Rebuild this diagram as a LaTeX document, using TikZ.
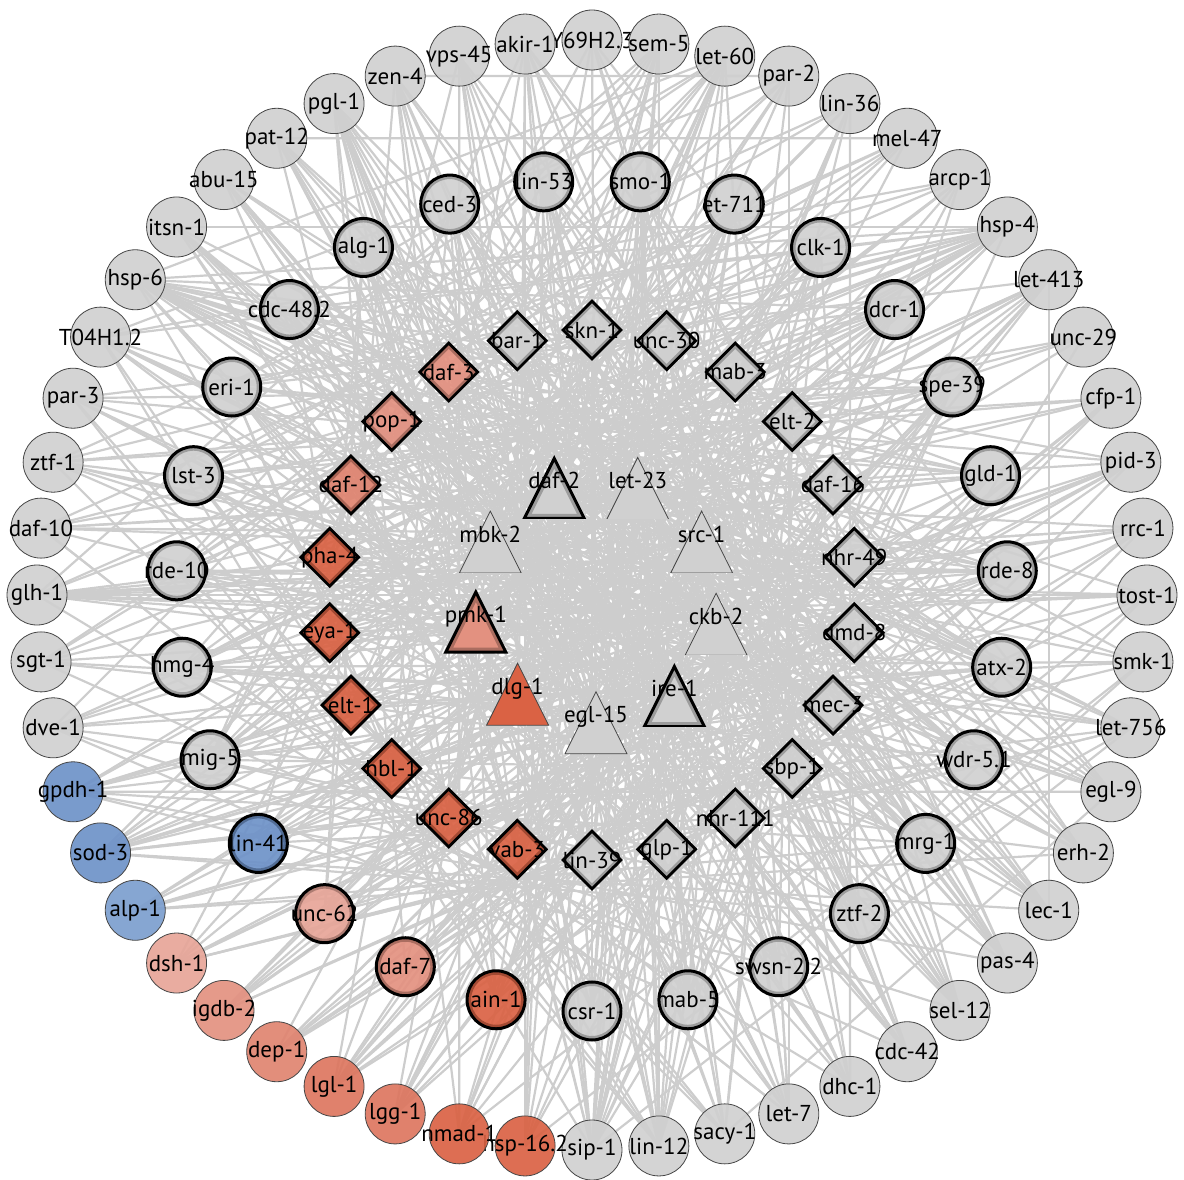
\documentclass[tikz,border=0pt]{standalone}
\usepackage{fontspec}
\newfontfamily\genefont{PT Sans}
\newcommand\genelabel{\genefont\fontsize{23}{26}\selectfont}
\usetikzlibrary{shapes.geometric,backgrounds}
\definecolor{nodegray}{RGB}{208,208,208}
\definecolor{edgegray}{RGB}{205,205,205}
\definecolor{ringgray}{RGB}{70,70,70}
\definecolor{redA}{RGB}{218,98,68}
\definecolor{redB}{RGB}{221,118,95}
\definecolor{redC}{RGB}{224,132,112}
\definecolor{redD}{RGB}{227,145,128}
\definecolor{redE}{RGB}{231,165,152}
\definecolor{blueA}{RGB}{110,146,200}
\definecolor{blueB}{RGB}{124,158,206}

\tikzset{
  edge/.style={draw=edgegray, line width=2.2pt},
  gene/.style={circle, fill=#1, draw=ringgray, line width=0.8pt, minimum size=60pt,
    inner sep=0pt, fill opacity=0.92, text opacity=1, font=\genelabel},
  hub/.style={gene=#1, draw=black, line width=3pt, minimum size=58pt,
    path picture={\draw[draw=#1!75!black, line width=8pt] (path picture bounding box.center) circle (29pt);}},
  tf/.style={diamond, fill=#1, draw=black, line width=2.8pt, minimum width=59pt, minimum height=59pt,
    inner sep=0pt, fill opacity=0.92, text opacity=1, font=\genelabel,
    path picture={\draw[draw=#1!75!black, line width=8pt] (path picture bounding box.north)
      -- (path picture bounding box.east) -- (path picture bounding box.south)
      -- (path picture bounding box.west) -- cycle;}},
  sigbox/.style={rectangle, minimum size=76pt, inner sep=0pt, fill=white, fill opacity=0,
    text opacity=1, font=\genelabel},
  sig/.style={sigbox, path picture={
    \begin{scope}[shift={(path picture bounding box.center)}]
      \fill[fill=#1, fill opacity=1] (0,31) -- (31,-31) -- (-31,-31) -- cycle;
      \draw[draw=ringgray, line width=0.8pt] (0,31) -- (31,-31) -- (-31,-31) -- cycle;
    \end{scope}}},
  hubsig/.style={sigbox, path picture={
    \begin{scope}[shift={(path picture bounding box.center)}]
      \fill[fill=#1, fill opacity=1] (0,30) -- (30,-30) -- (-30,-30) -- cycle;
      \begin{scope}
        \clip (0,30) -- (30,-30) -- (-30,-30) -- cycle;
        \draw[draw=#1!75!black, line width=9pt] (0,30) -- (30,-30) -- (-30,-30) -- cycle;
      \end{scope}
      \draw[black, line width=3pt] (0,30) -- (30,-30) -- (-30,-30) -- cycle;
    \end{scope}}}
}

\begin{document}
\begin{tikzpicture}[x=1pt, y=1pt]
\useasboundingbox (-592,-584) rectangle (592,595);

% outer ring
\foreach \i/\name/\col in {1/Y69H2.3/nodegray, 2/sem-5/nodegray, 3/let-60/nodegray,
    4/par-2/nodegray, 5/lin-36/nodegray, 6/mel-47/nodegray, 7/arcp-1/nodegray,
    8/hsp-4/nodegray, 9/let-413/nodegray, 10/unc-29/nodegray, 11/cfp-1/nodegray,
    12/pid-3/nodegray, 13/rrc-1/nodegray, 14/tost-1/nodegray, 15/smk-1/nodegray,
    16/let-756/nodegray, 17/egl-9/nodegray, 18/erh-2/nodegray, 19/lec-1/nodegray,
    20/pas-4/nodegray, 21/sel-12/nodegray, 22/cdc-42/nodegray, 23/dhc-1/nodegray,
    24/let-7/nodegray, 25/sacy-1/nodegray, 26/lin-12/nodegray, 27/sip-1/nodegray,
    28/hsp-16.2/redA, 29/nmad-1/redA, 30/lgg-1/redB, 31/lgl-1/redB, 32/dep-1/redC,
    33/igdb-2/redD, 34/dsh-1/redE, 35/alp-1/blueB, 36/sod-3/blueA, 37/gpdh-1/blueA,
    38/dve-1/nodegray, 39/sgt-1/nodegray, 40/glh-1/nodegray, 41/daf-10/nodegray,
    42/ztf-1/nodegray, 43/par-3/nodegray, 44/T04H1.2/nodegray, 45/hsp-6/nodegray,
    46/itsn-1/nodegray, 47/abu-15/nodegray, 48/pat-12/nodegray, 49/pgl-1/nodegray,
    50/zen-4/nodegray, 51/vps-45/nodegray, 52/akir-1/nodegray}
  \node[gene=\col] (o\i) at ({90-(\i-1)*(360/52)}:555) {\makebox[0pt]{\name}};

% middle ring
\foreach \i/\name/\col in {1/lin-53/nodegray, 2/smo-1/nodegray, 3/et-711/nodegray,
    4/clk-1/nodegray, 5/dcr-1/nodegray, 6/spe-39/nodegray, 7/gld-1/nodegray,
    8/rde-8/nodegray, 9/atx-2/nodegray, 10/wdr-5.1/nodegray, 11/mrg-1/nodegray,
    12/ztf-2/nodegray, 13/swsn-2.2/nodegray, 14/mab-5/nodegray, 15/csr-1/nodegray,
    16/ain-1/redA, 17/daf-7/redD, 18/unc-62/redE, 19/lin-41/blueA, 20/mig-5/nodegray,
    21/hmg-4/nodegray, 22/rde-10/nodegray, 23/lst-3/nodegray, 24/eri-1/nodegray,
    25/cdc-48.2/nodegray, 26/alg-1/nodegray, 27/ced-3/nodegray}
  \node[hub=\col] (m\i) at ({90+(180/27)-(\i-1)*(360/27)}:416) {\makebox[0pt]{\name}};

% diamonds
\foreach \i/\name/\col in {1/skn-1/nodegray, 2/unc-30/nodegray, 3/mab-3/nodegray,
    4/elt-2/nodegray, 5/daf-16/nodegray, 6/nhr-49/nodegray, 7/dmd-8/nodegray,
    8/mec-3/nodegray, 9/sbp-1/nodegray, 10/nhr-111/nodegray, 11/glp-1/nodegray,
    12/lin-39/nodegray, 13/vab-3/redA, 14/unc-86/redA, 15/hbl-1/redA, 16/elt-1/redA,
    17/eya-1/redA, 18/pha-4/redA, 19/daf-12/redC, 20/pop-1/redD, 21/daf-3/redD,
    22/bar-1/nodegray}
  \node[tf=\col] (d\i) at ({90-(\i-1)*(360/22)}:265) {\makebox[0pt]{\name}};

% triangles
\foreach \i/\name/\col in {1/daf-2/nodegray, 5/ire-1/nodegray, 8/pmk-1/redD}
  \node[hubsig=\col, xshift=4pt] (t\i) at ({110-(\i-1)*40}:122) {\makebox[0pt]{\name}};
\foreach \i/\name/\col in {2/let-23/nodegray, 3/src-1/nodegray, 4/ckb-2/nodegray,
    6/egl-15/nodegray, 7/dlg-1/redA, 9/mbk-2/nodegray}
  \node[sig=\col, xshift=4pt] (t\i) at ({110-(\i-1)*40}:122) {\makebox[0pt]{\name}};

% interactions
\begin{scope}[on background layer]
\foreach \src/\tgts in {
    o1/{m12,d9,t6,o30,m20,m8,o20}, o2/{o26,t1,t6,d12,d14,m15,m17,d20,o34,t9,m22,o40},
    o3/{t8,t7,m21,m24,d18,d16,o38,m18,t1,d11,o31,m25,o45}, o4/{o50,o24,t9,m22,d19,m19,t7,o44},
    o5/{o23,m16,d13,t6,o36,m20,m23,o42}, o6/{o48,t8,m23,d17,o41,m21,o39},
    o7/{m24,d20,t9,o44,m18,m20,o36},
    o8/{o46,o45,m25,m24,m23,m22,m21,d18,d19,d20,d21,t8,t9,t1,o40,o42,o44,m19,d16,m18,o37},
    o9/{o19,m21,d17,t8,o38,m20,d15,o43,m17,o33}, o10/{m22,t9,o41,m19}, o11/{m23,d18,o42,m17,o30},
    o12/{m24,t7,d15,o32,m18,m15,o36}, o13/{m21,d19,t8,o40,m14,o31}, o14/{o40,m22,d17,t8,o36,m13,o29},
    o15/{m21,d16,t9,o44,m26,m12,o28}, o16/{m22,d18,t1,o46,m25,o34,m11,o27},
    o17/{m23,d20,t9,o47,m1,m27,o25}, o18/{m24,d19,t2,o49,m26,o52}, o19/{m25,d21,t1,o50,m27,t9,m1,o48},
    o20/{m26,d22,t2,o48,m1,d1,m2,o49}, o21/{m27,d1,t3,o52,m2,d21,m3,o47},
    o22/{m1,d2,t2,o51,d20,t9,m26,o46}, o23/{m2,d3,t1,m27,o47,m25,o45},
    o24/{m3,d2,t3,o3,m26,d22,m24,o41}, o25/{m4,d4,t2,o52,m1,d21,m23,o43},
    o26/{m2,d1,t2,t3,m4,d22,o4,o7,m27,d5,m22,o44},
    o27/{m2,m3,m5,d2,d3,d4,t2,t3,t4,o5,o8,m27,d22,m6,o10,m26,o51},
    o28/{o52,m1,d1,t1,m6,d5,m4,o3}, o29/{o51,m3,d3,t3,m7,m5,o7}, o30/{m4,d4,t2,o6,m8,m6,o9},
    o31/{m5,d5,t3,o9,m9,m7,o11}, o32/{m6,d6,t4,o11,m3,m8,o13}, o33/{m7,d6,t4,o8,m5,m9,o14},
    o34/{m8,d7,t3,o12,m4,m10,o16}, o35/{m9,d8,t4,o15,m6,d5,m11,o18},
    o36/{m10,d9,t5,o16,m7,d7,t3,m5,o13,m12,o19}, o37/{m8,d8,t4,o17,m11,d6,t2,o12,m13,o20},
    o38/{m9,d7,t3,o18,m6,m14,o21}, o39/{m10,d8,t4,o11,m5,m3,o22},
    o40/{m8,m9,d6,d7,t3,t4,o16,o13,m7,m4,o23}, o41/{m7,d6,t3,o12,m10,m5,o24},
    o42/{m8,d7,t4,o17,m11,m6,o25}, o43/{m9,d9,t5,o19,m6,m7,o26}, o44/{m10,d8,t4,o20,m12,o27},
    o45/{m5,m6,m7,m8,m9,m10,d4,d5,d6,d7,t2,t3,t4,o12,o14,o17,m11,d8,m13,o26},
    o46/{m11,d9,t5,o21,m14,o24}, o47/{m12,d10,t5,o22,m9,m15,o23}, o48/{m13,d11,t6,o24,m10,m16,o22},
    o49/{m14,m15,d12,d11,t6,t5,o25,o27,m13,o29,m17,o21}, o50/{m13,d13,t6,o26,m16,d10,m18,o20},
    o51/{m14,d12,t5,m11,m19,o18}, o52/{m15,d13,t6,m12,o31,m20,o17},
    m1/{d10,t5,m14,d14,t6,m9}, m2/{d11,t7,m16,d15,t6,m10}, m3/{d13,t8,m19,d17,t7},
    m4/{d14,t8,m20,d16,m12}, m5/{d15,t9,m21,d19}, m6/{d17,t1,m23,d20,m14}, m7/{d18,t9,m24,d21},
    m8/{d18,t8,m22,d20,t1,m16}, m9/{d20,t1,m25,d22}, m10/{d21,t2,m26,d1,m18}, m11/{d22,t1,m27,d2},
    m12/{d1,t2,m27,d3,m20}, m13/{d2,t3,m1,d4}, m14/{d3,t2,m2,d5,m22}, m15/{d1,t2,m3,d6,t1},
    m16/{d5,t3,m4,d7,m24}, m17/{d6,t4,m6,d8}, m18/{d7,t3,m7,d9,m26}, m19/{d8,t4,m8,d10},
    m20/{d9,t5,m9,d11,m1}, m21/{d8,t4,m10,d12}, m22/{d7,t5,m11,d13,m3}, m23/{d11,t6,m12,d14},
    m24/{d12,t5,m13,d15,m5}, m25/{d13,t6,m14,d16}, m26/{d14,t7,m15,d17,m7}, m27/{d15,t6,m16,d18},
    d1/{d12,t6,t7,d15}, d2/{d13,t7,d16,t8}, d3/{d14,t8,d18}, d4/{d15,t9,d19},
    d5/{d16,t1,d20,t8}, d6/{d17,t9,d21}, d7/{d18,t1,d22}, d8/{d19,t2,d1}, d9/{d20,t2,d3},
    d10/{d21,t3,d2}, d11/{d22,t1,d4}, d12/{t2,t3,d5}, d13/{t3,d6}, d14/{t4,d7},
    d15/{t5,d8}, d16/{t5,d9}, d17/{t4,d10,t3}, d18/{t5,d11}, d19/{t6,d12}, d20/{t5,d13},
    d21/{t6,d14}, d22/{t7,d16},
    t1/{t4,t6}, t2/{t7,t8}, t3/{t8,t7}, t4/{t9}, t5/{t9}, t6/{t9}}
  \foreach \tgt in \tgts
    \draw[edge] (\src.center) -- (\tgt.center);
\end{scope}
\end{tikzpicture}
\end{document}
